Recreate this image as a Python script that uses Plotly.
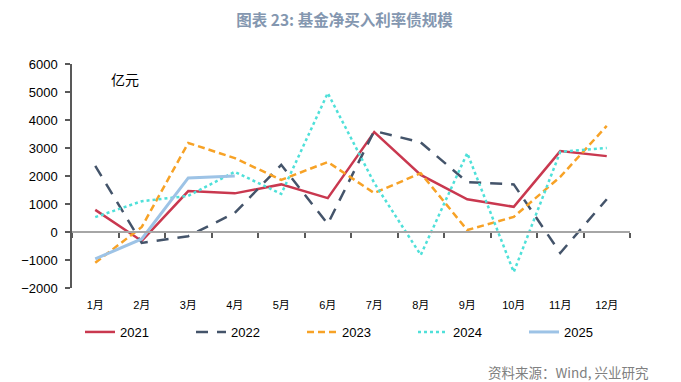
import plotly.graph_objects as go

months = ["1月", "2月", "3月", "4月", "5月", "6月", "7月", "8月", "9月", "10月", "11月", "12月"]
y2021 = [790, -320, 1460, 1380, 1700, 1210, 3570, 2040, 1170, 900, 2890, 2710]
y2022 = [2360, -390, -150, 680, 2400, 290, 3610, 3200, 1780, 1700, -750, 1170]
y2023 = [-1100, 180, 3180, 2640, 1860, 2500, 1390, 2100, 70, 540, 1970, 3790]
y2024 = [530, 1100, 1290, 2150, 1360, 4960, 1750, -820, 2820, -1430, 2860, 3000]
y2025 = [-960, -250, 1930, 2000]
yticks = [-2000, -1000, 0, 1000, 2000, 3000, 4000, 5000, 6000]

fig = go.Figure()
fig.add_trace(go.Scatter(x=months, y=y2021, name="2021", mode="lines",
                         line=dict(color="#C9384F", width=2.5)))
fig.add_trace(go.Scatter(x=months, y=y2022, name="2022", mode="lines",
                         line=dict(color="#44546A", width=2.5, dash="12px,9px")))
fig.add_trace(go.Scatter(x=months, y=y2023, name="2023", mode="lines",
                         line=dict(color="#F7A226", width=2.5, dash="7px,4px")))
fig.add_trace(go.Scatter(x=months, y=y2024, name="2024", mode="lines",
                         line=dict(color="#4FE0D9", width=2.5, dash="dot")))
fig.add_trace(go.Scatter(x=months[:len(y2025)], y=y2025, name="2025", mode="lines",
                         line=dict(color="#9DC3E6", width=3)))
# invisible trace on the axis-at-zero x-axis
fig.add_trace(go.Scatter(x=months, y=[None]*12, xaxis="x2", showlegend=False, hoverinfo="skip"))

font = "Liberation Sans, DejaVu Sans, Noto Sans CJK SC"
W, H = 673, 374          # page adds an 8px body margin
L, T, R, B = 64, 56, 51, 94
pw, ph = W - L - R, H - T - B
fig.update_layout(
    width=W, height=H,
    margin=dict(l=L, r=R, t=T, b=B, autoexpand=False),
    paper_bgcolor="white", plot_bgcolor="white",
    font=dict(family=font, size=12, color="#000000"),
    title=dict(text="<b>图表 23: 基金净买入利率债规模</b>", x=0.5, xanchor="center",
               y=1 - 13 / H, yanchor="middle",
               font=dict(family="Noto Sans CJK SC", size=15.5, color="#8497B0")),
    xaxis=dict(type="category", showline=False, showgrid=False, zeroline=False,
               ticks="outside", ticklen=7, tickcolor="rgba(0,0,0,0)",
               tickfont=dict(size=11), range=[-0.5, 11.5]),
    xaxis2=dict(type="category", overlaying="x", anchor="free", position=0.25,
                side="bottom", showline=True, linecolor="#A6A6A6", linewidth=2,
                ticks="outside", tickson="boundaries", ticklen=5, tickcolor="#595959",
                tickwidth=1.5, showticklabels=False, showgrid=False, range=[-0.5, 11.5]),
    yaxis=dict(range=[-2000, 6000], tickvals=yticks, showgrid=False, zeroline=False,
               showline=True, linecolor="#595959", linewidth=1.5,
               ticks="outside", ticklen=5, tickcolor="#595959", tickwidth=1.5,
               ticklabelstandoff=5, tickfont=dict(size=13)),
    legend=dict(orientation="h", x=(72 - L) / pw, xanchor="left", y=(280 - 324) / ph,
                yanchor="middle", entrywidth=66, entrywidthmode="pixels",
                font=dict(size=13), bgcolor="rgba(0,0,0,0)"),
    showlegend=True,
    annotations=[
        dict(text="亿元", x=(117 - L) / pw, y=1 - (71 - T) / ph, xref="paper", yref="paper",
             xanchor="center", yanchor="middle", showarrow=False,
             font=dict(family="Noto Sans CJK SC", size=14, color="#000000")),
        dict(text="资料来源：Wind, 兴业研究", x=(642 - L) / pw, y=(280 - 364) / ph,
             xref="paper", yref="paper", xanchor="right", yanchor="middle",
             showarrow=False, font=dict(family="Noto Sans CJK SC", size=13.5, color="#808080")),
    ],
)

fig.write_html("out.html")
